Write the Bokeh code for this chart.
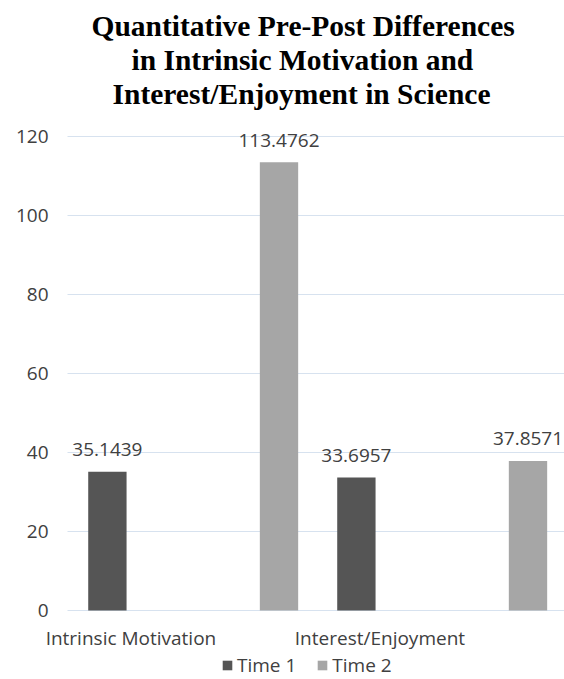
from bokeh.plotting import figure
from bokeh.models import FixedTicker, Title, Legend, LegendItem, Range1d
from bokeh.embed import file_html
from bokeh.resources import INLINE
from bokeh.core.properties import value

# ---- data ----
title_lines = ["Quantitative Pre-Post Differences",
               "in Intrinsic Motivation and",
               "Interest/Enjoyment in Science"]
categories = ["Intrinsic Motivation", "Interest/Enjoyment"]
series = ["Time 1", "Time 2"]
time1 = [35.1439, 33.6957]
time2 = [113.4762, 37.8571]
y_ticks = [0, 20, 40, 60, 80, 100, 120]

FONT = "Open Sans"
TEXT = "#404040"
C1 = "#555555"
C2 = "#a6a6a6"
GRID = "#d7e2ef"

X0, X1 = -0.7739, 1.4912      # visible x range
AX_X = -0.5048                # where the value axis sits (left edge of the grid)

p = figure(width=564, height=679, output_backend="svg", toolbar_location=None,
           x_range=Range1d(X0, X1), y_range=Range1d(-17.47, 126.84),
           min_border_left=0, min_border_right=0, min_border_bottom=0,
           min_border_top=109)
p.outline_line_color = None
p.background_fill_color = "white"
p.border_fill_color = "white"

# titles: p.title is outermost; first added is closest to the plot
offsets = [91, 131, 112]
def style_title(t, i):
    t.text = title_lines[i]
    t.align = "left"
    t.offset = offsets[i]
    t.standoff = 0
    t.text_font = "Liberation Serif"
    t.text_font_style = "bold"
    t.text_font_size = "29.5px"
    t.text_color = "black"

style_title(p.title, 0)
for i in [2, 1]:
    t = Title(text="")
    style_title(t, i)
    p.add_layout(t, "above")

# bars
n = len(categories)
x1 = [i - 0.3446 for i in range(n)]
x2 = [i + 0.3446 for i in range(n)]
bw = 0.154
r1 = p.vbar(x=x1, top=time1, width=bw, fill_color=C1, line_color=None)
r2 = p.vbar(x=x2, top=time2, width=bw, fill_color=C2, line_color=None)

# data labels
p.text(x=x1, y=time1, text=[str(v) for v in time1], text_align="center",
       text_baseline="alphabetic", y_offset=-22, text_font=value(FONT),
       text_font_size="19px", text_color=TEXT)
p.text(x=x2, y=time2, text=[str(v) for v in time2], text_align="center",
       text_baseline="alphabetic", y_offset=-22, text_font=value(FONT),
       text_font_size="19px", text_color=TEXT)

# axes
p.xaxis.ticker = FixedTicker(ticks=[i - 0.25 for i in range(n)])
p.xaxis.major_label_overrides = {i - 0.25: c for i, c in enumerate(categories)}
p.xaxis.fixed_location = 0
p.yaxis.ticker = FixedTicker(ticks=y_ticks)
p.yaxis.fixed_location = AX_X
for ax in (p.xaxis, p.yaxis):
    ax.axis_line_color = None
    ax.major_tick_line_color = None
    ax.minor_tick_line_color = None
    ax.major_tick_out = 0
    ax.major_tick_in = 0
    ax.minor_tick_out = 0
    ax.minor_tick_in = 0
    ax.major_label_text_font = FONT
    ax.major_label_text_font_size = "19px"
    ax.major_label_text_color = TEXT
p.yaxis.major_label_standoff = 19
p.xaxis.major_label_standoff = 15

p.xgrid.grid_line_color = None
p.ygrid.ticker = FixedTicker(ticks=y_ticks)
p.ygrid.cross_bounds = (AX_X, X1)
p.ygrid.grid_line_color = GRID
p.ygrid.grid_line_width = 1

legend = Legend(items=[LegendItem(label=series[0], renderers=[r1]),
                       LegendItem(label=series[1], renderers=[r2])],
                orientation="horizontal", location=(221, 1),
                glyph_width=12, glyph_height=12, label_standoff=4, spacing=20,
                padding=0, margin=0, border_line_color=None,
                background_fill_alpha=0,
                label_text_font=FONT, label_text_font_size="19px",
                label_text_color=TEXT)
p.add_layout(legend, "center")

open("out.html", "w").write(file_html(p, INLINE))
